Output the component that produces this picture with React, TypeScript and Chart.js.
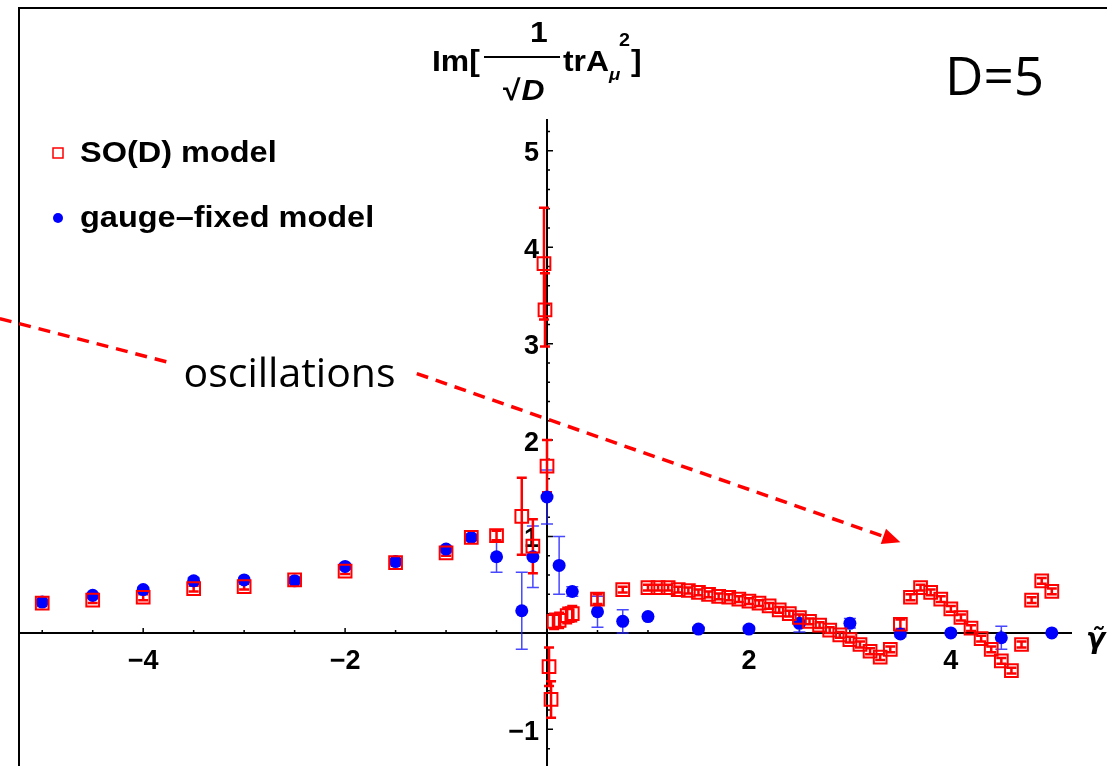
import React, { useEffect, useRef } from "react";
import { Chart, registerables } from "chart.js";

Chart.register(...registerables);

// ---------- axis ranges / ticks ----------
const X_MIN = -5.23;
const X_MAX = 5.2;
const Y_MIN = -1.38;
const Y_MAX = 5.33;
const xTickLabels = [-4, -2, 2, 4];
const yTickLabels = [-1, 1, 2, 3, 4, 5];

// ---------- SO(D) model (red hollow squares) ----------
const soX = [
  -5, -4.5, -4, -3.5, -3, -2.5, -2, -1.5, -1, -0.75, -0.5, -0.25, -0.14,
  -0.03, -0.02, 0, 0.02, 0.04, 0.07, 0.12, 0.2, 0.25, 0.5, 0.75,
  1.0, 1.1, 1.2, 1.3, 1.4, 1.5, 1.6, 1.7, 1.8, 1.9, 2.0, 2.1, 2.2, 2.3, 2.4,
  2.5, 2.6, 2.7, 2.8, 2.9, 3.0, 3.1, 3.2, 3.3, 3.4, 3.5, 3.6, 3.7, 3.8, 3.9,
  4.0, 4.1, 4.2, 4.3, 4.4, 4.5, 4.6, 4.7, 4.8, 4.9, 5.0,
];
const soY = [
  0.31, 0.34, 0.37, 0.46, 0.48, 0.55, 0.64, 0.73, 0.83, 0.99, 1.01, 1.21, 0.9,
  3.83, 3.35, 1.73, -0.35, -0.69, 0.12, 0.13, 0.18, 0.2, 0.35, 0.45,
  0.47, 0.47, 0.47, 0.45, 0.44, 0.42, 0.4, 0.38, 0.37, 0.35, 0.33, 0.31, 0.28, 0.24, 0.2,
  0.16, 0.12, 0.08, 0.03, -0.02, -0.07, -0.12, -0.19, -0.25, -0.17, 0.09, 0.37, 0.47, 0.42, 0.35,
  0.25, 0.16, 0.05, -0.06, -0.17, -0.29, -0.39, -0.12, 0.34, 0.54, 0.43,
];
const soErr = [
  0.03, 0.03, 0.03, 0.03, 0.03, 0.03, 0.03, 0.03, 0.03, 0.03, 0.05, 0.4, 0.28,
  0.58, 0.38, 0.27, 0.2, 0.19, 0.08, 0.08, 0.08, 0.08, 0.05, 0.03,
  0.03, 0.03, 0.03, 0.03, 0.03, 0.03, 0.03, 0.03, 0.03, 0.03, 0.03, 0.03, 0.03, 0.03, 0.03,
  0.03, 0.03, 0.03, 0.03, 0.03, 0.03, 0.03, 0.03, 0.03, 0.03, 0.05, 0.03, 0.03, 0.03, 0.03,
  0.03, 0.03, 0.03, 0.03, 0.03, 0.03, 0.03, 0.03, 0.03, 0.03, 0.03,
];

// ---------- gauge-fixed model (blue dots) ----------
const gfX = [
  -5, -4.5, -4, -3.5, -3, -2.5, -2, -1.5, -1, -0.75, -0.5, -0.25, -0.14, 0,
  0.12, 0.25, 0.5, 0.75, 1.0, 1.5, 2.0, 2.5, 3.0, 3.5, 4.0, 4.5, 5.0,
];
const gfY = [
  0.32, 0.39, 0.45, 0.54, 0.55, 0.54, 0.69, 0.74, 0.87, 0.99, 0.79, 0.23, 0.79, 1.41,
  0.7, 0.43, 0.22, 0.12, 0.17, 0.04, 0.04, 0.1, 0.1, -0.01, 0.0, -0.05, 0.0,
];
const gfErr = [
  0.02, 0.02, 0.02, 0.03, 0.02, 0.02, 0.03, 0.03, 0.03, 0.03, 0.16, 0.4, 0.32, 0.28,
  0.3, 0.05, 0.16, 0.12, 0.02, 0.02, 0.03, 0.09, 0.05, 0.03, 0.02, 0.12, 0.01,
];

const RED = "#ff0000";
const BLUE = "#0000ff";
const BOLD = "'Liberation Sans', Arial, Helvetica, sans-serif";
const CAL = "'Open Sans', 'Noto Sans', sans-serif";

function drawErrBars(chart: any, xs: number[], ys: number[], es: number[], color: string, lw: number, cap: number) {
  const { ctx, scales } = chart;
  const sx = scales.x;
  const sy = scales.y;
  ctx.save();
  ctx.strokeStyle = color;
  ctx.lineWidth = lw;
  for (let i = 0; i < xs.length; i++) {
    const px = sx.getPixelForValue(xs[i]);
    const top = sy.getPixelForValue(ys[i] + es[i]);
    const bot = sy.getPixelForValue(ys[i] - es[i]);
    ctx.beginPath();
    ctx.moveTo(px, top);
    ctx.lineTo(px, bot);
    ctx.moveTo(px - cap, top);
    ctx.lineTo(px + cap, top);
    ctx.moveTo(px - cap, bot);
    ctx.lineTo(px + cap, bot);
    ctx.stroke();
  }
  ctx.restore();
}

// text drawn with a slight horizontal stretch; returns drawn width
function wideText(ctx: any, text: string, x: number, y: number, k: number) {
  ctx.save();
  ctx.translate(x, y);
  ctx.scale(k, 1);
  ctx.fillText(text, 0, 0);
  const w = ctx.measureText(text).width * k;
  ctx.restore();
  return w;
}

const axesPlugin = {
  id: "mmaAxes",
  beforeDatasetsDraw(chart: any) {
    const { ctx, chartArea } = chart;
    const sx = chart.scales.x;
    const sy = chart.scales.y;
    const x0 = sx.getPixelForValue(0);
    const y0 = sy.getPixelForValue(0);
    ctx.save();
    // frame (top + left)
    ctx.strokeStyle = "#000";
    ctx.lineWidth = 2;
    ctx.beginPath();
    ctx.moveTo(chartArea.left, 766);
    ctx.lineTo(chartArea.left, 8);
    ctx.lineTo(1107, 8);
    ctx.stroke();

    // axes lines
    ctx.lineWidth = 2;
    ctx.beginPath();
    ctx.moveTo(chartArea.left, y0);
    ctx.lineTo(chartArea.right, y0);
    ctx.moveTo(x0, chartArea.top);
    ctx.lineTo(x0, chartArea.bottom);
    ctx.stroke();

    // x ticks every 0.5
    ctx.lineWidth = 1.5;
    ctx.beginPath();
    for (let k = -10; k <= 10; k++) {
      if (k === 0) continue;
      const v = k / 2;
      const px = sx.getPixelForValue(v);
      const len = k % 4 === 0 ? 5 : 3;
      ctx.moveTo(px, y0);
      ctx.lineTo(px, y0 - len);
    }
    // y ticks every 0.2
    for (let k = -6; k <= 26; k++) {
      if (k === 0) continue;
      const v = k / 5;
      const py = sy.getPixelForValue(v);
      const len = k % 5 === 0 ? 6 : 3;
      ctx.moveTo(x0, py);
      ctx.lineTo(x0 + len, py);
    }
    ctx.stroke();

    // tick labels
    ctx.fillStyle = "#000";
    ctx.font = `bold 27px ${BOLD}`;
    ctx.textAlign = "center";
    ctx.textBaseline = "middle";
    xTickLabels.forEach((v) => {
      const s = v < 0 ? "\u2212" + Math.abs(v) : String(v);
      ctx.fillText(s, sx.getPixelForValue(v), y0 + 29);
    });
    ctx.textAlign = "right";
    yTickLabels.forEach((v) => {
      const s = v < 0 ? "\u2212" + Math.abs(v) : String(v);
      ctx.fillText(s, x0 - 8, sy.getPixelForValue(v) + 3);
    });

    // x-axis title
    ctx.textAlign = "left";
    ctx.textBaseline = "alphabetic";
    ctx.font = `italic bold 28px 'DejaVu Sans', sans-serif`;
    ctx.fillText("\u03B3\u0303", chartArea.right + 14, y0 + 15);

    // y-axis title: Im[ 1/sqrt(D) trA_mu^2 ]
    const K = 1.1;
    ctx.font = `bold 29px ${BOLD}`;
    ctx.textAlign = "left";
    wideText(ctx, "Im[", 432, 71, K);
    ctx.lineWidth = 2;
    ctx.beginPath();
    ctx.moveTo(484, 57);
    ctx.lineTo(560, 57);
    ctx.stroke();
    wideText(ctx, "1", 530, 42, K);
    const wr = wideText(ctx, "\u221A", 503, 100, K);
    ctx.font = `italic bold 29px ${BOLD}`;
    wideText(ctx, "D", 503 + wr + 1, 100, K);
    ctx.font = `bold 29px ${BOLD}`;
    const trW = wideText(ctx, "trA", 563, 71, K);
    ctx.font = `italic bold 17px ${BOLD}`;
    wideText(ctx, "\u03BC", 563 + trW, 80, K);
    ctx.font = `bold 18px ${BOLD}`;
    wideText(ctx, "2", 563 + trW + 10, 46, K);
    ctx.font = `bold 29px ${BOLD}`;
    wideText(ctx, "]", 563 + trW + 22, 71, K);

    ctx.restore();

    // error bars (under markers)
    drawErrBars(chart, gfX, gfY, gfErr, "rgba(40,40,255,0.85)", 1.5, 6);
    drawErrBars(chart, soX, soY, soErr, RED, 2.5, 5);
  },
  afterDraw(chart: any) {
    const { ctx } = chart;
    const sx = chart.scales.x;
    const sy = chart.scales.y;
    ctx.save();
    // legend
    ctx.strokeStyle = RED;
    ctx.lineWidth = 1.5;
    ctx.strokeRect(53, 148, 10, 10);
    ctx.fillStyle = BLUE;
    ctx.beginPath();
    ctx.arc(58, 218, 5, 0, Math.PI * 2);
    ctx.fill();
    ctx.fillStyle = "#000";
    ctx.font = `bold 29px ${BOLD}`;
    ctx.textAlign = "left";
    ctx.textBaseline = "middle";
    wideText(ctx, "SO(D) model", 80, 154, 1.12);
    wideText(ctx, "gauge\u2013fixed model", 80, 219, 1.12);

    // D=5
    ctx.font = `53px ${CAL}`;
    ctx.textBaseline = "alphabetic";
    ctx.fillText("D=5", 945, 95);

    // oscillations annotation
    ctx.font = `41px ${CAL}`;
    ctx.fillText("oscillations", sx.getPixelForValue(-3.6), sy.getPixelForValue(2.55));

    ctx.strokeStyle = RED;
    ctx.lineWidth = 3.5;
    ctx.setLineDash([12, 8]);
    ctx.beginPath();
    ctx.moveTo(sx.getPixelForValue(-5.42), sy.getPixelForValue(3.26));
    ctx.lineTo(sx.getPixelForValue(-3.76), sy.getPixelForValue(2.81));
    ctx.stroke();
    const ax0 = sx.getPixelForValue(-1.29);
    const ay0 = sy.getPixelForValue(2.69);
    const ax1 = sx.getPixelForValue(3.5);
    const ay1 = sy.getPixelForValue(0.94);
    const ang = Math.atan2(ay1 - ay0, ax1 - ax0);
    const headLen = 18;
    ctx.beginPath();
    ctx.moveTo(ax0, ay0);
    ctx.lineTo(ax1 - headLen * Math.cos(ang), ay1 - headLen * Math.sin(ang));
    ctx.stroke();
    ctx.setLineDash([]);
    ctx.fillStyle = RED;
    ctx.beginPath();
    ctx.moveTo(ax1, ay1);
    ctx.lineTo(ax1 - headLen * Math.cos(ang) + 8 * Math.sin(ang), ay1 - headLen * Math.sin(ang) - 8 * Math.cos(ang));
    ctx.lineTo(ax1 - headLen * Math.cos(ang) - 8 * Math.sin(ang), ay1 - headLen * Math.sin(ang) + 8 * Math.cos(ang));
    ctx.closePath();
    ctx.fill();
    ctx.restore();
  },
};

export default function App() {
  const ref = useRef<HTMLCanvasElement | null>(null);
  useEffect(() => {
    if (!ref.current) return;
    const chart = new Chart(ref.current, {
      type: "scatter",
      data: {
        datasets: [
          {
            label: "SO(D) model",
            data: soX.map((x, i) => ({ x, y: soY[i] })),
            pointStyle: "rect",
            pointRadius: 9,
            backgroundColor: "rgba(0,0,0,0)",
            borderColor: RED,
            borderWidth: 2,
          },
          {
            label: "gauge\u2013fixed model",
            data: gfX.map((x, i) => ({ x, y: gfY[i] })),
            pointStyle: "circle",
            pointRadius: 6.5,
            backgroundColor: BLUE,
            borderColor: BLUE,
            borderWidth: 0,
          },
        ],
      },
      options: {
        responsive: false,
        animation: false,
        devicePixelRatio: 1,
        layout: { autoPadding: false, padding: { left: 19, right: 35, top: 119, bottom: 0 } },
        plugins: { legend: { display: false }, tooltip: { enabled: false } },
        scales: {
          x: { type: "linear", min: X_MIN, max: X_MAX, display: false },
          y: { type: "linear", min: Y_MIN, max: Y_MAX, display: false },
        },
      },
      plugins: [axesPlugin],
    });
    return () => chart.destroy();
  }, []);
  return (
    <div style={{ position: "fixed", left: 0, top: 0, width: 1107, height: 766, background: "#fff" }}>
      <canvas ref={ref} width={1107} height={766} style={{ display: "block" }} />
    </div>
  );
}
